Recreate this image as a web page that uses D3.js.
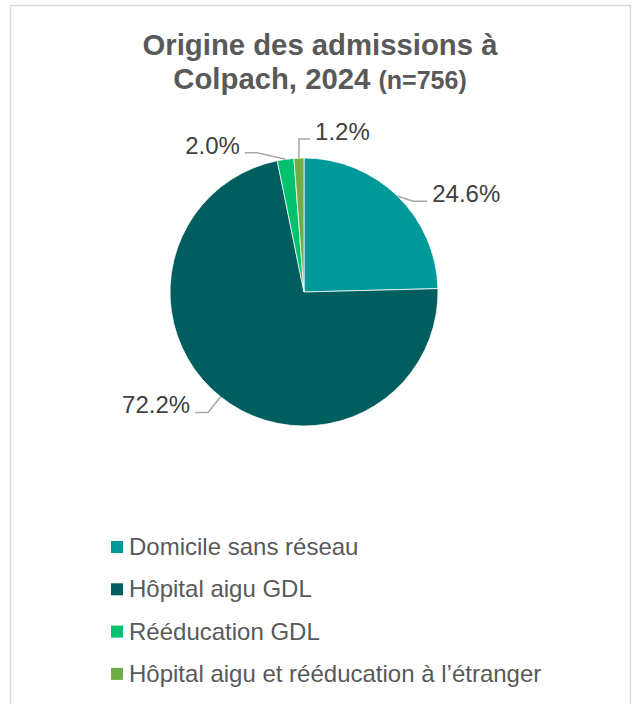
<!DOCTYPE html>
<html>
<head>
<meta charset="utf-8">
<script src="https://cdn.jsdelivr.net/npm/d3@7"></script>
<style>
  body { margin: 0; background: #fff; }
  svg { font-family: "Liberation Sans", Arial, sans-serif; }
</style>
</head>
<body>
<div id="chart"></div>
<script>
const CANVAS_WIDTH  = 633;
const CANVAS_HEIGHT = 704;

const CENTER_X = 304;
const CENTER_Y = 292;
const RADIUS   = 134;

const TITLE_LINE_1 = "Origine des admissions à";
const TITLE_LINE_2 = "Colpach, 2024 ";
const TITLE_N      = "(n=756)";

const CATEGORIES = ["Domicile sans réseau", "Hôpital aigu GDL", "Rééducation GDL", "Hôpital aigu et rééducation à l’étranger"];
const VALUES     = [24.6, 72.2, 2.0, 1.2];
const COLORS     = ["#009999", "#005e5e", "#00c16e", "#70ad47"];

// manual label placement, like Excel's dragged labels: angle nudge (deg), extra radius, side, leader length
const LABEL_LAYOUT = [
    {dAngle:  6.0, dR:  8, side:  1, len: 14},
    {dAngle:  0.0, dR: 20, side: -1, len: 13},
    {dAngle: -10.8, dR: 13, side: -1, len: 12},
    {dAngle:  0.3, dR: 19, side:  1, len: 11}
];

const LABEL_FONT    = 24;
const LEGEND_X      = 111;
const LEGEND_TOP    = 541;
const LEGEND_STEP   = 42.3;
const LEGEND_SWATCH = 12;

var svg = d3.select("#chart")
            .append("svg")
            .attr("width", CANVAS_WIDTH)
            .attr("height", CANVAS_HEIGHT);

// chart area border
svg.append("rect")
   .attr("x", 10.5)
   .attr("y", 5.5)
   .attr("width", 620)
   .attr("height", 740)
   .attr("fill", "#fff")
   .attr("stroke", "#d9d9d9")
   .attr("stroke-width", 1.5);

// title
var title = svg.append("text")
               .attr("text-anchor", "middle")
               .attr("fill", "#595959")
               .attr("font-weight", "bold");
title.append("tspan")
     .attr("x", 320).attr("y", 55)
     .attr("font-size", 29.3)
     .text(TITLE_LINE_1);
var line2 = title.append("tspan")
     .attr("x", 320).attr("y", 89);
line2.append("tspan").attr("font-size", 29.3).text(TITLE_LINE_2);
line2.append("tspan").attr("font-size", 25).text(TITLE_N);

// pie
var pie = d3.pie().sort(null).value(d => d)(VALUES);
var arc = d3.arc().innerRadius(0).outerRadius(RADIUS);

var g = svg.append("g").attr("transform", `translate(${CENTER_X},${CENTER_Y})`);

g.selectAll("path.slice")
 .data(pie)
 .enter()
 .append("path")
 .attr("class", "slice")
 .attr("d", arc)
 .attr("fill", (d, i) => COLORS[i])
 .attr("stroke", "#fff")
 .attr("stroke-width", 0.75);

function polar(angle, r) {
    return [r * Math.sin(angle), -r * Math.cos(angle)];
}

pie.forEach(function(d, i) {
    var lay = LABEL_LAYOUT[i];
    var mid = (d.startAngle + d.endAngle) / 2;
    var edge = polar(mid, RADIUS);
    var elbow = polar(mid + lay.dAngle * Math.PI / 180, RADIUS + lay.dR);
    var end = [elbow[0] + lay.side * lay.len, elbow[1]];

    g.append("path")
     .attr("d", d3.line()([edge, elbow, end]))
     .attr("fill", "none")
     .attr("stroke", "#a6a6a6")
     .attr("stroke-width", 1.5);

    g.append("text")
     .attr("x", end[0] + lay.side * 5)
     .attr("y", end[1] + 1)
     .attr("text-anchor", lay.side > 0 ? "start" : "end")
     .attr("font-size", LABEL_FONT)
     .attr("fill", "#404040")
     .text(d3.format(".1f")(d.value) + "%");
});

// legend
var legend = svg.selectAll("g.legend")
                .data(CATEGORIES)
                .enter()
                .append("g")
                .attr("class", "legend")
                .attr("transform", (d, i) => `translate(${LEGEND_X},${LEGEND_TOP + i * LEGEND_STEP})`);

legend.append("rect")
      .attr("width", LEGEND_SWATCH)
      .attr("height", LEGEND_SWATCH)
      .attr("fill", (d, i) => COLORS[i]);

legend.append("text")
      .attr("x", 18)
      .attr("y", 14)
      .attr("font-size", LABEL_FONT)
      .attr("fill", "#595959")
      .text(d => d);
</script>
</body>
</html>
